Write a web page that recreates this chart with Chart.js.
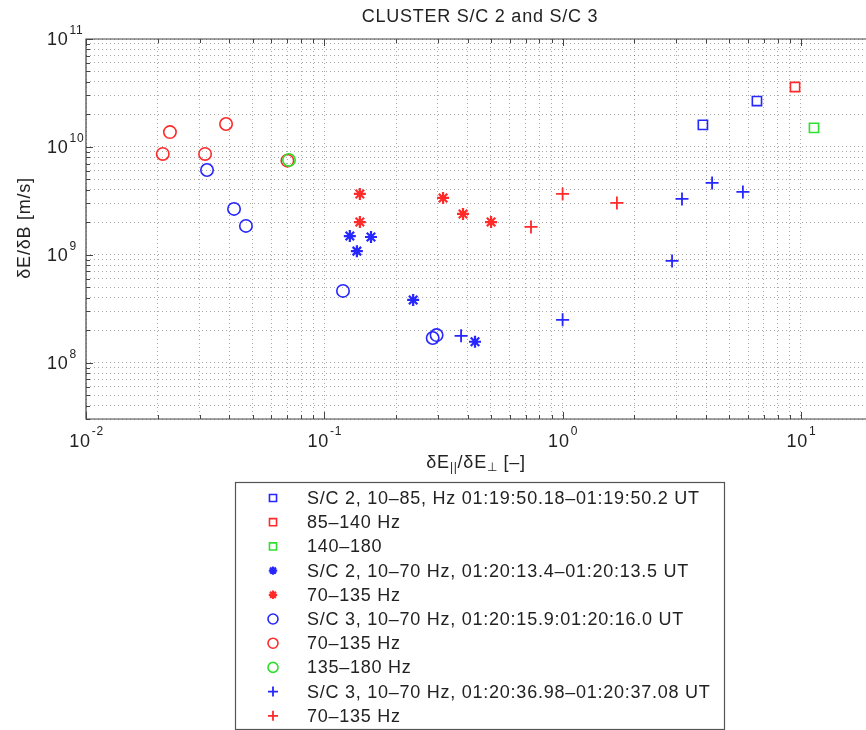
<!DOCTYPE html>
<html>
<head>
<meta charset="utf-8">
<script src="https://cdn.jsdelivr.net/npm/chart.js@4.4.0/dist/chart.umd.min.js"></script>
<style>
  html, body { margin: 0; padding: 0; background: #fff; overflow: hidden; }
  #wrap { width: 866px; height: 730px; position: relative; }
</style>
</head>
<body>
<div id="wrap"><canvas id="plot"></canvas></div>
<script>
// values (x = dE_par/dE_perp, y = dE/dB in m/s)
const sqBlueX = [3.88, 6.54];
const sqBlueY = [1.6e10, 2.66e10];
const sqRedX = [9.45];
const sqRedY = [3.59e10];
const sqGreenX = [11.35];
const sqGreenY = [1.5e10];

const starBlueX = [0.128, 0.157, 0.137, 0.236, 0.429];
const starBlueY = [1.49e9, 1.46e9, 1.08e9, 3.81e8, 1.56e8];
const starRedX = [0.141, 0.141, 0.315, 0.382, 0.501];
const starRedY = [3.66e9, 2.01e9, 3.36e9, 2.39e9, 2.01e9];

const circBlueX = [0.0322, 0.0418, 0.0469, 0.1198, 0.285, 0.296];
const circBlueY = [6.1e9, 2.66e9, 1.85e9, 4.62e8, 1.69e8, 1.8e8];
const circRedX = [0.0225, 0.0210, 0.0316, 0.0387, 0.0700];
const circRedY = [1.37e10, 8.6e9, 8.6e9, 1.63e10, 7.45e9];
const circGreenX = [0.0711];
const circGreenY = [7.56e9];

const plusBlueX = [0.375, 1.0, 2.88, 3.17, 4.24, 5.71];
const plusBlueY = [1.77e8, 2.49e8, 8.76e8, 3.29e9, 4.63e9, 3.82e9];
const plusRedX = [0.737, 1.0, 1.69];
const plusRedY = [1.81e9, 3.66e9, 3.02e9];

const legendLabels = [
  'S/C 2, 10\u201385, Hz 01:19:50.18\u201301:19:50.2 UT',
  '85\u2013140 Hz',
  '140\u2013180',
  'S/C 2, 10\u201370 Hz, 01:20:13.4\u201301:20:13.5 UT',
  '70\u2013135 Hz',
  'S/C 3, 10\u201370 Hz, 01:20:15.9:01:20:16.0 UT',
  '70\u2013135 Hz',
  '135\u2013180 Hz',
  'S/C 3, 10\u201370 Hz, 01:20:36.98\u201301:20:37.08 UT',
  '70\u2013135 Hz'
];

const xTickExps = [-2, -1, 0, 1];
const yTickExps = [8, 9, 10, 11];

const BLUE = '#2626ff';
const RED = '#ff2a2a';
const GREEN = '#2ee02e';
const FONT = "'Liberation Sans', Arial, sans-serif";

function pts(xs, ys) {
  return xs.map((x, i) => ({ x: x, y: ys[i] }));
}

function series(label, xs, ys, color, style, radius, width, order) {
  return {
    label: label,
    data: pts(xs, ys),
    pointStyle: style,
    pointRadius: radius,
    pointHoverRadius: radius,
    pointBorderWidth: width,
    borderColor: color,
    backgroundColor: 'rgba(0,0,0,0)',
    showLine: false,
    order: order || 0
  };
}

const datasets = [
  series(legendLabels[0], sqBlueX, sqBlueY, BLUE, 'rect', 6.5, 1.6),
  series(legendLabels[1], sqRedX, sqRedY, RED, 'rect', 6.5, 1.6),
  series(legendLabels[2], sqGreenX, sqGreenY, GREEN, 'rect', 6.5, 1.6),
  series(legendLabels[3], starBlueX, starBlueY, BLUE, 'star', 6, 2.2),
  series(legendLabels[4], starRedX, starRedY, RED, 'star', 6, 2.2),
  series(legendLabels[5], circBlueX, circBlueY, BLUE, 'circle', 6.2, 1.6),
  series(legendLabels[6], circRedX, circRedY, RED, 'circle', 6.2, 1.6),
  series(legendLabels[7], circGreenX, circGreenY, GREEN, 'circle', 6.2, 1.6, -1),
  series(legendLabels[8], plusBlueX, plusBlueY, BLUE, 'cross', 6.5, 1.8),
  series(legendLabels[9], plusRedX, plusRedY, RED, 'cross', 6.5, 1.8)
];

function logGridTicks(min, max) {
  const out = [];
  for (let e = Math.floor(Math.log10(min)); e <= Math.ceil(Math.log10(max)); e++) {
    for (let m = 1; m <= 9; m++) {
      const v = m * Math.pow(10, e);
      if (v >= min * 0.999 && v <= max * 1.001) out.push({ value: v, major: m === 1 });
    }
  }
  return out;
}

const gridOpts = { color: 'rgba(0,0,0,0.34)', lineWidth: 1, drawTicks: false };

// MATLAB-like frame, inward ticks, superscript labels, titles and boxed legend
const matlabFrame = {
  id: 'matlabFrame',
  afterDraw(chart) {
    const ctx = chart.ctx;
    const a = chart.chartArea;
    const xs = chart.scales.x, ys = chart.scales.y;
    ctx.save();
    ctx.letterSpacing = '0.75px';

    // axes box
    ctx.strokeStyle = '#444';
    ctx.lineWidth = 1.2;
    ctx.beginPath();
    ctx.moveTo(a.right, a.top); ctx.lineTo(a.left, a.top);
    ctx.lineTo(a.left, a.bottom); ctx.lineTo(a.right, a.bottom);
    ctx.stroke();

    // inward ticks
    ctx.lineWidth = 1;
    ctx.beginPath();
    xs.ticks.forEach(t => {
      const px = Math.round(xs.getPixelForValue(t.value)) + 0.5;
      const len = t.major ? 7 : 4;
      ctx.moveTo(px, a.bottom); ctx.lineTo(px, a.bottom - len);
      ctx.moveTo(px, a.top); ctx.lineTo(px, a.top + len);
    });
    ys.ticks.forEach(t => {
      const py = Math.round(ys.getPixelForValue(t.value)) + 0.5;
      const len = t.major ? 7 : 4;
      ctx.moveTo(a.left, py); ctx.lineTo(a.left + len, py);
    });
    ctx.stroke();

    ctx.fillStyle = '#222';
    ctx.textBaseline = 'middle';

    // x tick labels: 10^n centred on the tick
    xTickExps.forEach(e => {
      const px = xs.getPixelForValue(Math.pow(10, e));
      ctx.font = '18px ' + FONT;
      const wb = ctx.measureText('10').width;
      ctx.font = '12px ' + FONT;
      const we = ctx.measureText(String(e)).width;
      const x0 = px - (wb + we) / 2;
      ctx.textAlign = 'left';
      ctx.font = '18px ' + FONT;
      ctx.fillText('10', x0, a.bottom + 23);
      ctx.font = '12px ' + FONT;
      ctx.fillText(String(e), x0 + wb + 1, a.bottom + 13);
    });

    // y tick labels
    yTickExps.forEach(e => {
      const py = ys.getPixelForValue(Math.pow(10, e));
      ctx.textAlign = 'left';
      ctx.font = '18px ' + FONT;
      ctx.fillText('10', 47, py + 1);
      const wb = ctx.measureText('10').width;
      ctx.font = '12px ' + FONT;
      ctx.fillText(String(e), 47 + wb + 1, py - 8);
    });

    // title
    ctx.font = '18px ' + FONT;
    ctx.textAlign = 'center';
    ctx.fillText('CLUSTER S/C 2 and S/C 3', 480, 17);

    // y axis title
    ctx.save();
    ctx.translate(25, 228);
    ctx.rotate(-Math.PI / 2);
    ctx.textAlign = 'center';
    ctx.fillText('\u03b4E/\u03b4B [m/s]', 0, 0);
    ctx.restore();

    // x axis title with subscripts
    const parts = [
      ['\u03b4E', 18, 0], ['||', 12, 5], ['/\u03b4E', 18, 0], ['\u22a5', 12, 5], [' [\u2013]', 18, 0]
    ];
    let total = 0;
    parts.forEach(p => { ctx.font = p[1] + 'px ' + FONT; total += ctx.measureText(p[0]).width; });
    let cx = 476 - total / 2;
    ctx.textAlign = 'left';
    parts.forEach(p => {
      ctx.font = p[1] + 'px ' + FONT;
      ctx.fillText(p[0], cx, 463 + p[2]);
      cx += ctx.measureText(p[0]).width;
    });

    // legend box
    const lx = 235.5, ly = 482.5, lw = 489, lh = 247;
    ctx.fillStyle = '#fff';
    ctx.fillRect(lx, ly, lw, lh);
    ctx.strokeStyle = '#555';
    ctx.lineWidth = 1.2;
    ctx.strokeRect(lx, ly, lw, lh);
    chart.data.datasets.forEach((ds, i) => {
      const yy = 498 + i * 24.2;
      ctx.strokeStyle = ds.borderColor;
      ctx.fillStyle = 'rgba(0,0,0,0)';
      ctx.lineWidth = ds.pointBorderWidth;
      const r = ds.pointStyle === 'star' ? 4.2 : 5;
      Chart.helpers.drawPoint(ctx, { pointStyle: ds.pointStyle, radius: r, rotation: 0, borderWidth: ds.pointBorderWidth }, 273, yy);
      ctx.fillStyle = '#222';
      ctx.font = '18px ' + FONT;
      ctx.textAlign = 'left';
      ctx.fillText(ds.label, 307, yy + 1);
    });
    ctx.restore();
  }
};

new Chart(document.getElementById('plot'), {
  type: 'scatter',
  data: { datasets: datasets },
  options: {
    responsive: true,
    maintainAspectRatio: false,
    animation: false,
    devicePixelRatio: 1,
    layout: { autoPadding: false, padding: { top: 39, right: 0, bottom: 0, left: 0 } },
    plugins: { legend: { display: false }, tooltip: { enabled: false }, title: { display: false } },
    scales: {
      x: {
        type: 'logarithmic',
        min: 0.01,
        max: 18.76,
        ticks: { display: false },
        grid: gridOpts,
        border: { display: false, dash: [1, 3] },
        afterBuildTicks: axis => { axis.ticks = logGridTicks(axis.min, axis.max); },
        afterFit: axis => { axis.height = 311; }
      },
      y: {
        type: 'logarithmic',
        min: 3e7,
        max: 1e11,
        ticks: { display: false },
        grid: gridOpts,
        border: { display: false, dash: [1, 3] },
        afterBuildTicks: axis => { axis.ticks = logGridTicks(axis.min, axis.max); },
        afterFit: axis => { axis.width = 86; }
      }
    }
  },
  plugins: [matlabFrame]
});
</script>
</body>
</html>
